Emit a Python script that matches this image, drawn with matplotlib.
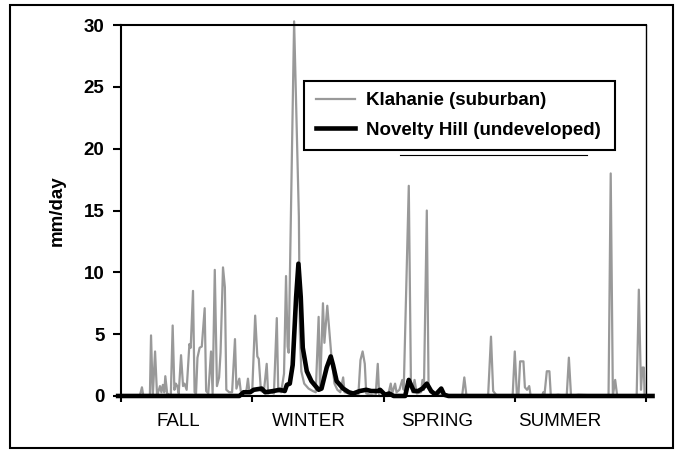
import matplotlib
matplotlib.use('Agg')
import matplotlib.pyplot as plt
from matplotlib.lines import Line2D
from matplotlib.patches import Rectangle
import matplotlib.transforms as mtransforms

plt.rcParams['font.family'] = ['Liberation Sans', 'DejaVu Sans']

# day of water year (Oct 1 = 0), daily runoff in mm/day
klahanie_day = [0, 13, 14.5, 15.5, 20, 20.8, 22, 23.6, 25, 27, 28, 29, 30, 30.7, 32, 34.5,
                35.8, 37, 38, 39, 40, 41.6, 43, 44, 45.5, 47.4, 48.3, 49.9, 51, 52, 53,
                54.5, 56, 58, 59, 60.5, 62.4, 63.5, 65, 66.5, 68, 69, 70.7, 72, 73, 75,
                77, 79, 80, 82, 83, 85, 87, 88, 89, 91, 93, 94.5, 95.5, 97, 99, 101, 102,
                104, 106, 108, 109, 111, 113, 114.4, 115.5, 116.2, 120, 123.3, 124, 125,
                127, 130, 133, 135, 137, 138, 140, 141, 143, 144.5, 146, 148, 150, 152,
                154, 155, 158, 162, 164.5, 166, 167.5, 169, 170, 173, 176.5, 178, 179,
                185, 187, 188, 190, 191, 193, 195, 196, 199.5, 201, 202, 203.5, 205, 208,
                209, 210, 212, 213.2, 214.5, 218, 222, 226, 236.5, 238, 239.5, 254.5,
                256.5, 258, 260, 263, 271.5, 273, 274.5, 275.5, 276.7, 279, 280, 281.5,
                283, 284, 292, 292.7, 293.5, 295.2, 297, 298, 303, 309, 310.5, 312, 317,
                338, 339.5, 341, 342.6, 344, 357.5, 359, 360.5, 361.5, 362.5, 363]
klahanie_mm = [0, 0, 0.7, 0, 0, 4.9, 0, 3.6, 0, 0.8, 0.3, 0.9, 0.3, 1.6, 0.2, 0,
               5.7, 0.5, 1.0, 0.8, 0.2, 3.3, 0.8, 1.0, 0.5, 4.2, 3.9, 8.5, 0.3, 0.2, 3.1,
               3.9, 4.0, 7.1, 0.4, 0.2, 3.6, 0.2, 10.2, 0.8, 1.5, 3.5, 10.4, 8.8, 0.5, 0.3,
               0.3, 4.6, 0.6, 1.4, 0.4, 0.2, 0.5, 1.4, 0.3, 0.5, 6.5, 3.2, 3.0, 0.4, 0.3, 2.6, 0.2,
               0.3, 0.2, 6.3, 0.4, 0.3, 1.8, 9.7, 4.0, 3.5, 30.3, 14.5, 5.0, 2.0,
               1.0, 0.6, 0.4, 0.3, 6.4, 0.5, 7.5, 4.3, 7.3, 5.2, 3.0, 1.0, 0.5, 0.3,
               1.5, 0.3, 0.2, 0.1, 0, 2.9, 3.6, 2.6, 0.2, 0.1, 0, 2.6, 0,
               0, 1.0, 0.2, 1.0, 0.3, 0.5, 1.3, 0.5, 17.0, 1.0, 0.3, 1.3, 0.2, 0.3,
               1.3, 0.5, 15.0, 1.0, 0.3, 0.2, 0.1, 0, 0, 1.5, 0, 0,
               4.8, 0.4, 0.1, 0, 0, 3.6, 0, 0, 2.8, 2.8, 0.7, 0.5,
               0.8, 0, 0, 0.3, 0, 2.0, 2.0, 0, 0.1, 0, 3.1, 0, 0.1,
               0, 18.0, 0, 1.3, 0, 0, 8.6, 0.5, 2.3, 2.3, 0]

novelty_day = [-2, 82, 85, 89.5, 92, 97.5, 100, 105.5, 110, 113.5, 115, 117, 119, 121.4,
               123, 124.6, 126, 128.8, 132, 137, 139, 142.6, 145.4, 147, 149.5, 154, 158,
               161, 165.5, 170, 173.5, 178, 179.6, 183, 186, 189, 197, 199.5, 201, 203,
               206, 209, 212, 215, 218, 222, 224, 227, 368.5]
novelty_mm = [0, 0, 0.3, 0.3, 0.5, 0.6, 0.3, 0.4, 0.5, 0.4, 0.9, 1.0, 2.5, 8.0,
              10.7, 8.0, 3.9, 2.0, 1.2, 0.5, 0.6, 2.3, 3.2, 2.5, 1.2, 0.6, 0.3,
              0.2, 0.4, 0.5, 0.4, 0.4, 0.5, 0.1, 0.2, 0, 0, 1.3, 0.9, 0.4,
              0.4, 0.6, 1.0, 0.4, 0.1, 0.6, 0.1, 0, 0]

season_names = ['FALL', 'WINTER', 'SPRING', 'SUMMER']
season_pos = [40, 130, 219, 304]
quarter_ticks = [0, 91, 182, 273, 364]

fig = plt.figure(figsize=(6.75, 4.51), dpi=100)
ax = fig.add_axes([0.1793, 0.122, 0.7778, 0.8224])

ax.plot(klahanie_day, klahanie_mm, color='#999999', lw=1.6, label='Klahanie (suburban)',
        clip_on=False)
ax.plot(novelty_day, novelty_mm, color='black', lw=3.3, label='Novelty Hill (undeveloped)',
        clip_on=False, solid_joinstyle='round', zorder=3)

ax.set_xlim(0, 364)
ax.set_ylim(0, 30)
ax.set_yticks(range(0, 31, 5))
ax.set_xticks(quarter_ticks)
ax.set_xticklabels([])
ax.tick_params(axis='y', direction='out', length=6, width=1.5, labelsize=13.5, pad=6)
ax.tick_params(axis='x', direction='out', length=4, width=1.5)
for lab in ax.get_yticklabels():
    lab.set_fontweight('bold')

for s in ['left', 'bottom', 'top']:
    ax.spines[s].set_linewidth(1.5)
ax.spines['right'].set_linewidth(1.0)

ax.set_ylabel('mm/day', fontsize=13.5, fontweight='bold')
ax.yaxis.set_label_coords(-0.105, 0.5)

trans = mtransforms.blended_transform_factory(ax.transData, ax.transAxes)
for name, pos in zip(season_names, season_pos):
    ax.text(pos, -0.07, name, transform=trans, ha='center', va='center', fontsize=13.5)

leg = ax.legend(loc='upper left', bbox_to_anchor=(0.349, 0.666, 0.592, 0.183), mode='expand',
                borderaxespad=0, prop={'weight': 'bold', 'size': 13.5},
                handlelength=2.1, handletextpad=0.6, borderpad=0.6, labelspacing=0.65,
                fancybox=False, framealpha=1)
leg.get_frame().set_edgecolor('black')
leg.get_frame().set_linewidth(1.5)

# stray line under the legend and the outer frame
fig.add_artist(Line2D([0.5926, 0.8696], [0.6563, 0.6563], color='black', lw=0.8))
fig.add_artist(Rectangle((0.0148, 0.0067), 0.982, 0.982, fill=False, edgecolor='black', lw=1.5))

fig.savefig('out.png', dpi=100)
